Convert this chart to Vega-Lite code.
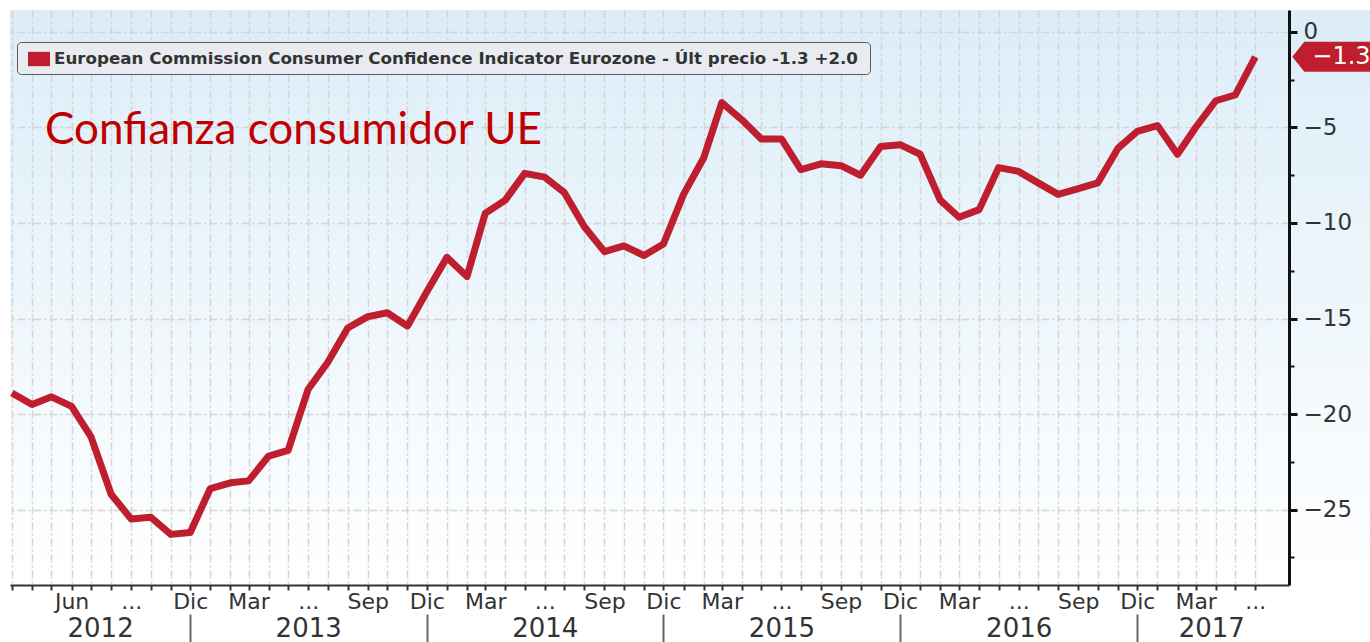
{
  "$schema": "https://vega.github.io/schema/vega-lite/v6.json",
  "width": 1279,
  "height": 575,
  "autosize": {"type": "none"},
  "padding": {"left": 10, "top": 10, "right": 81, "bottom": 57},
  "background": "#ffffff",
  "config": {
    "font": "DejaVu Sans",
    "view": {"stroke": null, "fill": {"gradient": "linear", "x1": 0, "y1": 0, "x2": 0, "y2": 1, "stops": [{"offset": 0, "color": "#dcedf8"}, {"offset": 1, "color": "#ffffff"}]}}
  },
  "data": {"values": [
    {"date": "2012-03-01T00:00:00", "value": -18.9},
    {"date": "2012-04-01T00:00:00", "value": -19.5},
    {"date": "2012-05-01T00:00:00", "value": -19.1},
    {"date": "2012-06-01T00:00:00", "value": -19.6},
    {"date": "2012-07-01T00:00:00", "value": -21.2},
    {"date": "2012-08-01T00:00:00", "value": -24.2},
    {"date": "2012-09-01T00:00:00", "value": -25.5},
    {"date": "2012-10-01T00:00:00", "value": -25.4},
    {"date": "2012-11-01T00:00:00", "value": -26.3},
    {"date": "2012-12-01T00:00:00", "value": -26.2},
    {"date": "2013-01-01T00:00:00", "value": -23.9},
    {"date": "2013-02-01T00:00:00", "value": -23.6},
    {"date": "2013-03-01T00:00:00", "value": -23.5},
    {"date": "2013-04-01T00:00:00", "value": -22.2},
    {"date": "2013-05-01T00:00:00", "value": -21.9},
    {"date": "2013-06-01T00:00:00", "value": -18.7},
    {"date": "2013-07-01T00:00:00", "value": -17.3},
    {"date": "2013-08-01T00:00:00", "value": -15.5},
    {"date": "2013-09-01T00:00:00", "value": -14.9},
    {"date": "2013-10-01T00:00:00", "value": -14.7},
    {"date": "2013-11-01T00:00:00", "value": -15.4},
    {"date": "2013-12-01T00:00:00", "value": -13.6},
    {"date": "2014-01-01T00:00:00", "value": -11.8},
    {"date": "2014-02-01T00:00:00", "value": -12.8},
    {"date": "2014-03-01T00:00:00", "value": -9.5},
    {"date": "2014-04-01T00:00:00", "value": -8.8},
    {"date": "2014-05-01T00:00:00", "value": -7.4},
    {"date": "2014-06-01T00:00:00", "value": -7.6},
    {"date": "2014-07-01T00:00:00", "value": -8.4},
    {"date": "2014-08-01T00:00:00", "value": -10.2},
    {"date": "2014-09-01T00:00:00", "value": -11.5},
    {"date": "2014-10-01T00:00:00", "value": -11.2},
    {"date": "2014-11-01T00:00:00", "value": -11.7},
    {"date": "2014-12-01T00:00:00", "value": -11.1},
    {"date": "2015-01-01T00:00:00", "value": -8.5},
    {"date": "2015-02-01T00:00:00", "value": -6.6},
    {"date": "2015-03-01T00:00:00", "value": -3.7},
    {"date": "2015-04-01T00:00:00", "value": -4.6},
    {"date": "2015-05-01T00:00:00", "value": -5.6},
    {"date": "2015-06-01T00:00:00", "value": -5.6},
    {"date": "2015-07-01T00:00:00", "value": -7.2},
    {"date": "2015-08-01T00:00:00", "value": -6.9},
    {"date": "2015-09-01T00:00:00", "value": -7.0},
    {"date": "2015-10-01T00:00:00", "value": -7.5},
    {"date": "2015-11-01T00:00:00", "value": -6.0},
    {"date": "2015-12-01T00:00:00", "value": -5.9},
    {"date": "2016-01-01T00:00:00", "value": -6.4},
    {"date": "2016-02-01T00:00:00", "value": -8.8},
    {"date": "2016-03-01T00:00:00", "value": -9.7},
    {"date": "2016-04-01T00:00:00", "value": -9.3},
    {"date": "2016-05-01T00:00:00", "value": -7.1},
    {"date": "2016-06-01T00:00:00", "value": -7.3},
    {"date": "2016-07-01T00:00:00", "value": -7.9},
    {"date": "2016-08-01T00:00:00", "value": -8.5},
    {"date": "2016-09-01T00:00:00", "value": -8.2},
    {"date": "2016-10-01T00:00:00", "value": -7.9},
    {"date": "2016-11-01T00:00:00", "value": -6.1},
    {"date": "2016-12-01T00:00:00", "value": -5.2},
    {"date": "2017-01-01T00:00:00", "value": -4.9},
    {"date": "2017-02-01T00:00:00", "value": -6.4},
    {"date": "2017-03-01T00:00:00", "value": -5.0},
    {"date": "2017-04-01T00:00:00", "value": -3.6},
    {"date": "2017-05-01T00:00:00", "value": -3.3},
    {"date": "2017-06-01T00:00:00", "value": -1.3}
  ]},
  "resolve": {"axis": {"x": "independent", "y": "independent"}},
  "layer": [
    {
      "mark": {"type": "line", "strokeWidth": 7, "strokeJoin": "round", "strokeCap": "butt"},
      "encoding": {
        "x": {
          "field": "date", "type": "temporal",
          "scale": {"domain": [{"year": 2012, "month": 2, "date": 27}, {"year": 2017, "month": 7, "date": 23}]},
          "axis": {
            "orient": "bottom", "title": null, "zindex": 0,
            "values": [
              {"year": 2012, "month": 3, "date": 1}, {"year": 2012, "month": 4, "date": 1}, {"year": 2012, "month": 5, "date": 1}, {"year": 2012, "month": 6, "date": 1}, {"year": 2012, "month": 7, "date": 1}, {"year": 2012, "month": 8, "date": 1}, {"year": 2012, "month": 9, "date": 1}, {"year": 2012, "month": 10, "date": 1}, {"year": 2012, "month": 11, "date": 1}, {"year": 2012, "month": 12, "date": 1},
              {"year": 2013, "month": 1, "date": 1}, {"year": 2013, "month": 2, "date": 1}, {"year": 2013, "month": 3, "date": 1}, {"year": 2013, "month": 4, "date": 1}, {"year": 2013, "month": 5, "date": 1}, {"year": 2013, "month": 6, "date": 1}, {"year": 2013, "month": 7, "date": 1}, {"year": 2013, "month": 8, "date": 1}, {"year": 2013, "month": 9, "date": 1}, {"year": 2013, "month": 10, "date": 1}, {"year": 2013, "month": 11, "date": 1}, {"year": 2013, "month": 12, "date": 1},
              {"year": 2014, "month": 1, "date": 1}, {"year": 2014, "month": 2, "date": 1}, {"year": 2014, "month": 3, "date": 1}, {"year": 2014, "month": 4, "date": 1}, {"year": 2014, "month": 5, "date": 1}, {"year": 2014, "month": 6, "date": 1}, {"year": 2014, "month": 7, "date": 1}, {"year": 2014, "month": 8, "date": 1}, {"year": 2014, "month": 9, "date": 1}, {"year": 2014, "month": 10, "date": 1}, {"year": 2014, "month": 11, "date": 1}, {"year": 2014, "month": 12, "date": 1},
              {"year": 2015, "month": 1, "date": 1}, {"year": 2015, "month": 2, "date": 1}, {"year": 2015, "month": 3, "date": 1}, {"year": 2015, "month": 4, "date": 1}, {"year": 2015, "month": 5, "date": 1}, {"year": 2015, "month": 6, "date": 1}, {"year": 2015, "month": 7, "date": 1}, {"year": 2015, "month": 8, "date": 1}, {"year": 2015, "month": 9, "date": 1}, {"year": 2015, "month": 10, "date": 1}, {"year": 2015, "month": 11, "date": 1}, {"year": 2015, "month": 12, "date": 1},
              {"year": 2016, "month": 1, "date": 1}, {"year": 2016, "month": 2, "date": 1}, {"year": 2016, "month": 3, "date": 1}, {"year": 2016, "month": 4, "date": 1}, {"year": 2016, "month": 5, "date": 1}, {"year": 2016, "month": 6, "date": 1}, {"year": 2016, "month": 7, "date": 1}, {"year": 2016, "month": 8, "date": 1}, {"year": 2016, "month": 9, "date": 1}, {"year": 2016, "month": 10, "date": 1}, {"year": 2016, "month": 11, "date": 1}, {"year": 2016, "month": 12, "date": 1},
              {"year": 2017, "month": 1, "date": 1}, {"year": 2017, "month": 2, "date": 1}, {"year": 2017, "month": 3, "date": 1}, {"year": 2017, "month": 4, "date": 1}, {"year": 2017, "month": 5, "date": 1}, {"year": 2017, "month": 6, "date": 1}
            ],
            "labelExpr": "(month(datum.value)==5 && year(datum.value)==2012) ? 'Jun' : (month(datum.value)==8 && year(datum.value)==2012) ? '...' : (month(datum.value)==2 && year(datum.value)>2012) ? 'Mar' : month(datum.value)==5 ? '...' : month(datum.value)==8 ? 'Sep' : month(datum.value)==11 ? 'Dic' : ''",
            "grid": true, "gridColor": "#d4d4d4", "gridWidth": 1.5, "gridDash": [8, 3, 2, 3],
            "domain": true, "domainColor": "#333333", "domainWidth": 2,
            "ticks": true, "tickColor": "#333333", "tickWidth": 2, "tickSize": 5,
            "labelFont": "DejaVu Sans", "labelFontSize": 22, "labelColor": "#333333", "labelPadding": 1,
            "labelOverlap": false, "labelFlush": false, "labelBound": false
          }
        },
        "y": {
          "field": "value", "type": "quantitative",
          "scale": {"domain": [-28.95, 1.15], "nice": false, "zero": false},
          "axis": {
            "orient": "right", "title": null, "zindex": 0,
            "values": [0, -5, -10, -15, -20, -25],
            "grid": true, "gridColor": "#d4d4d4", "gridWidth": 1.5, "gridDash": [8, 3, 2, 3],
            "domain": false, "ticks": false, "labels": false
          }
        },
        "color": {
          "datum": "European Commission Consumer Confidence Indicator Eurozone - Últ precio -1.3  +2.0",
          "type": "nominal",
          "scale": {"range": ["#be1e2d"]},
          "legend": {
            "orient": "none", "legendX": 7, "legendY": 32, "title": null,
            "fillColor": "#e8ecf0", "strokeColor": "#5a5a5a", "cornerRadius": 4, "padding": 6,
            "labelFont": "DejaVu Sans", "labelFontSize": 16.7, "labelFontWeight": "bold", "labelColor": "#333333", "labelLimit": 0, "labelOffset": 4,
            "symbolType": "M-1,-0.65H1V0.65H-1Z", "symbolSize": 484, "symbolOffset": 5,
            "symbolFillColor": "#be1e2d", "symbolStrokeColor": "#be1e2d", "symbolStrokeWidth": 0,
            "encode": {"symbols": {"update": {"fill": {"value": "#be1e2d"}, "stroke": {"value": "transparent"}, "strokeWidth": {"value": 0}}}}
          }
        }
      }
    },
    {
      "mark": {"type": "line", "opacity": 0},
      "encoding": {
        "x": {
          "field": "date", "type": "temporal",
          "scale": {"domain": [{"year": 2012, "month": 2, "date": 27}, {"year": 2017, "month": 7, "date": 23}]},
          "axis": {
            "orient": "bottom", "title": null,
            "values": [{"year": 2012, "month": 7, "date": 15}, {"year": 2013, "month": 6, "date": 1}, {"year": 2014, "month": 6, "date": 1}, {"year": 2015, "month": 6, "date": 1}, {"year": 2016, "month": 6, "date": 1}, {"year": 2017, "month": 3, "date": 25}],
            "labelExpr": "timeFormat(datum.value, '%Y')",
            "grid": false, "domain": false, "ticks": false,
            "labelFont": "DejaVu Sans", "labelFontSize": 26, "labelColor": "#333333", "labelPadding": 30,
            "labelOverlap": false, "labelFlush": false, "labelBound": false
          }
        },
        "y": {
          "field": "value", "type": "quantitative",
          "scale": {"domain": [-28.95, 1.15], "nice": false, "zero": false},
          "axis": {
            "orient": "right", "title": null, "zindex": 1,
            "values": [0, -5, -10, -15, -20, -25],
            "grid": false,
            "domain": true, "domainColor": "#111111", "domainWidth": 3,
            "ticks": true, "tickColor": "#111111", "tickWidth": 3, "tickSize": 8,
            "labelFont": "DejaVu Sans", "labelFontSize": 23, "labelColor": "#333333", "labelPadding": 6
          }
        }
      }
    },
    {
      "mark": {"type": "line", "opacity": 0},
      "encoding": {
        "x": {
          "field": "date", "type": "temporal",
          "scale": {"domain": [{"year": 2012, "month": 2, "date": 27}, {"year": 2017, "month": 7, "date": 23}]},
          "axis": {
            "orient": "bottom", "title": null, "offset": 29,
            "values": [{"year": 2012, "month": 12, "date": 1}, {"year": 2013, "month": 12, "date": 1}, {"year": 2014, "month": 12, "date": 1}, {"year": 2015, "month": 12, "date": 1}, {"year": 2016, "month": 12, "date": 1}],
            "labels": false, "grid": false, "domain": false,
            "ticks": true, "tickSize": 30, "tickWidth": 2, "tickColor": "#666666"
          }
        },
        "y": {
          "field": "value", "type": "quantitative",
          "scale": {"domain": [-28.95, 1.15], "nice": false, "zero": false},
          "axis": {
            "orient": "right", "title": null, "zindex": 1,
            "values": [-2.5, -7.5, -12.5, -17.5, -22.5, -27.5],
            "labels": false, "grid": false, "domain": false,
            "ticks": true, "tickSize": 5, "tickWidth": 2, "tickColor": "#111111"
          }
        }
      }
    },
    {
      "data": {"values": [{"label": "Confianza consumidor UE"}]},
      "mark": {"type": "text", "align": "left", "baseline": "alphabetic", "font": "Lato", "fontSize": 44, "color": "#c00000"},
      "encoding": {
        "x": {"datum": {"year": 2012, "month": 4, "date": 21}, "type": "temporal", "scale": {"domain": [{"year": 2012, "month": 2, "date": 27}, {"year": 2017, "month": 7, "date": 23}]}, "axis": null},
        "y": {"datum": -5.86, "type": "quantitative", "scale": {"domain": [-28.95, 1.15], "nice": false, "zero": false}, "axis": null},
        "text": {"field": "label"}
      }
    },
    {
      "data": {"values": [{"label": "pad"}]},
      "mark": {"type": "rect", "fill": {"gradient": "linear", "x1": 0, "y1": 0, "x2": 0, "y2": 1, "stops": [{"offset": 0, "color": "#dcedf8"}, {"offset": 1, "color": "#ffffff"}]}},
      "encoding": {
        "x": {"datum": {"year": 2017, "month": 7, "date": 23}, "type": "temporal", "scale": {"domain": [{"year": 2012, "month": 2, "date": 27}, {"year": 2017, "month": 7, "date": 23}]}, "axis": null},
        "x2": {"datum": {"year": 2017, "month": 12, "date": 31}},
        "y": {"datum": 1.15, "type": "quantitative", "scale": {"domain": [-28.95, 1.15], "nice": false, "zero": false}, "axis": null},
        "y2": {"datum": -28.95}
      }
    },
    {
      "data": {"values": [{"date": "2017-06-01T00:00:00", "value": -1.3, "label": "−1.3"}]},
      "layer": [
        {
          "mark": {"type": "point", "shape": "M0,0L0.8,-1L5.6,-1L5.6,1L0.8,1Z", "size": 900, "filled": true, "opacity": 1, "color": "#be1e2d", "strokeWidth": 0, "xOffset": 37},
          "encoding": {
            "x": {"field": "date", "type": "temporal", "scale": {"domain": [{"year": 2012, "month": 2, "date": 27}, {"year": 2017, "month": 7, "date": 23}]}, "axis": null},
            "y": {"field": "value", "type": "quantitative", "scale": {"domain": [-28.95, 1.15], "nice": false, "zero": false}, "axis": null}
          }
        },
        {
          "mark": {"type": "text", "align": "left", "baseline": "middle", "dx": 57, "font": "DejaVu Sans", "fontSize": 24, "color": "#ffffff"},
          "encoding": {
            "x": {"field": "date", "type": "temporal", "scale": {"domain": [{"year": 2012, "month": 2, "date": 27}, {"year": 2017, "month": 7, "date": 23}]}, "axis": null},
            "y": {"field": "value", "type": "quantitative", "scale": {"domain": [-28.95, 1.15], "nice": false, "zero": false}, "axis": null},
            "text": {"field": "label"}
          }
        }
      ]
    }
  ]
}
